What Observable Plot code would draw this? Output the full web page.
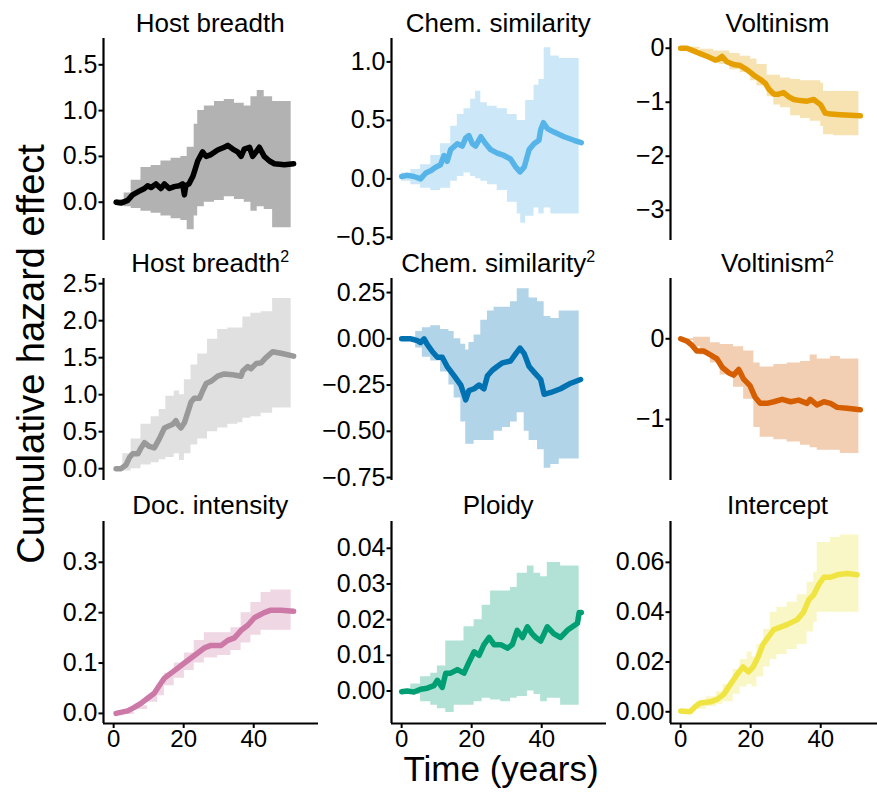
<!DOCTYPE html>
<html><head><meta charset="utf-8">
<script src="https://cdn.jsdelivr.net/npm/d3@7"></script>
<script src="https://cdn.jsdelivr.net/npm/@observablehq/plot@0.6"></script>
<style>
html,body{margin:0;padding:0;background:#fff;}
#chart{position:relative;width:877px;height:792px;overflow:hidden;background:#fff;}
#chart svg.panel{position:absolute;overflow:visible;}
</style></head><body><div id="chart"></div>
<script>
// ---------- data (years, cumulative hazard effect) ----------
const titles = ["Host breadth","Chem. similarity","Voltinism","Host breadth","Chem. similarity","Voltinism","Doc. intensity","Ploidy","Intercept"];
const titleSup = [false,false,false,true,true,true,false,false,false];
const colors = ["#000000","#56B4E9","#E69F00","#999999","#0072B2","#D55E00","#CC79A7","#009E73","#F0E442"];
const xTicks = [0,20,40];

const hostT   = [0.7,2.1,4,5.4,7.3,8.8,9.7,10.7,12.1,13.5,14.5,15.9,17.3,18.8,19.7,20.2,20.6,21.5,22.6,23.2,24,25.4,26.4,27.8,29.7,31.6,32.6,34,35.4,36.4,37.3,38.8,39.7,40.7,41.6,43,44.5,45.9,48.8,51.4];
const hostEst = [0,-0.01,0.02,0.08,0.12,0.15,0.18,0.16,0.2,0.15,0.2,0.15,0.17,0.18,0.2,0.08,0.18,0.2,0.28,0.35,0.45,0.55,0.5,0.52,0.57,0.6,0.62,0.58,0.55,0.5,0.58,0.6,0.5,0.55,0.6,0.5,0.45,0.42,0.41,0.42];
const hostBT  = [0.7,3,5,7.8,10.7,13.5,16.4,19.2,21,23,24,25.9,28.8,31.6,34.5,37.3,39.2,41,43,45.4,50.7];
const hostLo  = [-0.03,-0.05,-0.07,-0.1,-0.12,-0.15,-0.18,-0.2,-0.3,-0.15,-0.05,0,0.02,0.06,0.03,0,-0.1,-0.05,-0.08,-0.28,-0.28];
const hostHi  = [0.03,0.1,0.24,0.38,0.4,0.45,0.48,0.5,0.6,0.85,1.0,1.05,1.1,1.12,1.08,1.05,1.15,1.22,1.15,1.1,1.1];

const chemT   = [0,1.6,3.5,5.4,6.9,8.3,9.7,11.1,12.1,13,14,15.9,17.3,18.3,19.2,20.2,21.1,22.6,24,25.4,27.3,29.2,31.1,32.6,33.8,35,36.4,37.8,39.2,39.7,40.5,41.6,43.5,46.4,49.2,51.3];
const chemEst = [0.02,0.03,0.02,0,0.05,0.07,0.1,0.12,0.2,0.15,0.25,0.3,0.28,0.35,0.37,0.3,0.28,0.36,0.3,0.25,0.22,0.2,0.17,0.1,0.06,0.1,0.25,0.3,0.33,0.42,0.48,0.43,0.4,0.36,0.33,0.31];
const chemBT  = [0,2.6,5.4,8.3,11.1,14,15.9,17.8,19.7,21.1,22.6,24.5,27.3,30.2,33,34,35.4,37.8,39.2,40.7,42.6,45,50.7];
const chemLo  = [-0.02,-0.05,-0.08,-0.1,-0.08,-0.02,0.02,0.05,0.02,0,-0.02,-0.05,-0.1,-0.2,-0.3,-0.38,-0.32,-0.25,-0.3,-0.25,-0.3,-0.3,-0.3];
const chemHi  = [0.05,0.08,0.12,0.2,0.3,0.45,0.55,0.6,0.68,0.75,0.65,0.62,0.6,0.55,0.5,0.5,0.67,0.8,0.85,1.12,1.05,1.03,1.03];

const voltT   = [0,1.8,3.7,5.6,7.5,9.9,10.8,11.8,13.2,15.1,17,19,20.9,22.8,24.2,25.1,26.6,28,29.4,30.9,32.3,34.2,36.1,38,40,41.3,42.8,45.6,48.5,51.3];
const voltEst = [0,0,-0.05,-0.1,-0.15,-0.22,-0.2,-0.15,-0.25,-0.3,-0.32,-0.4,-0.5,-0.58,-0.65,-0.75,-0.85,-0.85,-0.82,-0.9,-0.95,-0.97,-0.98,-0.95,-1.05,-1.2,-1.22,-1.23,-1.24,-1.25];
const voltBT  = [0,5.6,9.4,11.1,14,17,20,21.8,24.7,26.6,28.5,31.4,34.2,37,40,40.8,43.7,50.9];
const voltLo  = [-0.02,-0.15,-0.28,-0.3,-0.4,-0.45,-0.6,-0.7,-0.9,-1.05,-1.1,-1.25,-1.3,-1.35,-1.45,-1.6,-1.62,-1.65];
const voltHi  = [0.02,-0.02,-0.05,-0.05,-0.1,-0.15,-0.2,-0.3,-0.5,-0.5,-0.55,-0.58,-0.6,-0.6,-0.65,-0.8,-0.8,-0.8];

const host2T   = [0.7,2.1,3.5,4.5,5.4,6.9,7.8,8.8,10.2,11.6,13,14.5,15.9,16.9,17.8,18.3,19.2,20.2,21.1,22.1,23,24.5,25.4,26.4,27.8,29.7,31.6,34,36.4,36.9,38.3,39.2,40.7,42.1,43.5,45.4,47.8,51.4];
const host2Est = [0,0,0.05,0.15,0.2,0.2,0.28,0.35,0.3,0.28,0.4,0.55,0.58,0.6,0.65,0.6,0.55,0.62,0.75,0.9,0.95,0.95,1.05,1.15,1.18,1.25,1.28,1.27,1.25,1.32,1.38,1.35,1.42,1.43,1.5,1.58,1.56,1.52];
const host2BT  = [0.7,2.6,5,7.8,10.7,13,14.9,17.3,18.8,20.2,22.1,24,26.8,29.7,32.6,35.4,36.9,39.2,42.1,45.4,50.7];
const host2Lo  = [-0.02,-0.03,0,0.05,0.08,0.12,0.15,0.2,0.11,0.2,0.32,0.4,0.5,0.55,0.6,0.62,0.68,0.7,0.75,0.82,0.82];
const host2Hi  = [0.02,0.2,0.4,0.6,0.7,0.8,0.98,1.05,1.0,1.2,1.4,1.55,1.75,1.88,1.9,1.9,2.05,2.1,2.12,2.3,2.3];

const chem2T   = [0,2.6,4.5,5.4,6.4,7.3,8.8,10.2,11.6,13,15,16.9,17.8,18.3,19.2,20.7,22.1,23.5,24.5,25.9,27.3,28.8,31.1,32.6,33.8,35,36.4,37.8,39.7,40.7,42.6,45.4,48.3,51.1];
const chem2Est = [0,0,-0.01,-0.02,0,-0.03,-0.07,-0.1,-0.1,-0.15,-0.2,-0.25,-0.3,-0.33,-0.28,-0.27,-0.25,-0.27,-0.2,-0.17,-0.15,-0.13,-0.12,-0.08,-0.05,-0.08,-0.15,-0.18,-0.22,-0.3,-0.29,-0.27,-0.24,-0.22];
const chem2BT  = [0,4,5.9,8.3,11.1,13.5,15,16.9,18.3,19.2,20.7,22.6,24.5,26.4,28.8,31.1,33,35,36.4,38.8,40.7,42.6,45,50.7];
const chem2Lo  = [-0.01,-0.05,-0.1,-0.12,-0.18,-0.25,-0.32,-0.45,-0.57,-0.57,-0.55,-0.55,-0.55,-0.5,-0.48,-0.45,-0.4,-0.5,-0.55,-0.6,-0.7,-0.68,-0.65,-0.65];
const chem2Hi  = [0.01,0.04,0.06,0.07,0.05,0.04,0,-0.03,-0.06,-0.02,0.02,0.1,0.15,0.17,0.17,0.2,0.27,0.27,0.22,0.2,0.12,0.11,0.15,0.15];

const volt2T   = [0,1.8,3.2,4.6,6.5,8.5,10.4,11.8,13.7,15.1,16.6,18,19.8,21.2,22.7,24.7,26.6,29,31.4,33.7,36.1,37,38.9,40.9,42.8,44.7,47.5,51.3];
const volt2Est = [0,-0.03,-0.08,-0.15,-0.15,-0.2,-0.25,-0.35,-0.42,-0.45,-0.38,-0.5,-0.58,-0.72,-0.8,-0.8,-0.78,-0.75,-0.78,-0.76,-0.8,-0.75,-0.82,-0.78,-0.8,-0.85,-0.86,-0.88];
const volt2BT  = [0,3.7,5.6,8.5,11.3,15.1,18,20.9,22.7,26.6,30.4,34.2,37,39,42.8,45.6,50.9];
const volt2Lo  = [-0.02,-0.1,-0.2,-0.3,-0.45,-0.6,-0.75,-1.1,-1.22,-1.25,-1.28,-1.32,-1.35,-1.38,-1.38,-1.42,-1.42];
const volt2Hi  = [0,0.02,0.02,-0.05,-0.07,-0.1,-0.15,-0.3,-0.35,-0.32,-0.3,-0.28,-0.2,-0.25,-0.22,-0.25,-0.25];

const docT   = [0.7,4,5.9,7.8,9.7,11.6,13,14.5,16.4,18.3,20.2,22.1,24,25.9,27.8,30.7,32.6,34.5,36.4,38.3,40.2,43,44.9,47.8,51.4];
const docEst = [0,0.005,0.012,0.02,0.03,0.04,0.055,0.07,0.08,0.09,0.1,0.11,0.12,0.13,0.135,0.135,0.145,0.15,0.165,0.175,0.19,0.2,0.205,0.205,0.203];
const docBT  = [0.7,5.9,9.7,12.6,14.5,17.3,20.2,23,25.9,29.7,33.5,36.4,39.2,42.1,44.9,50.7];
const docLo  = [-0.002,0.008,0.022,0.035,0.055,0.07,0.085,0.1,0.11,0.115,0.125,0.14,0.155,0.165,0.165,0.165];
const docHi  = [0.003,0.015,0.035,0.055,0.08,0.1,0.12,0.145,0.16,0.16,0.17,0.2,0.22,0.24,0.245,0.245];

const ploT   = [0,1.6,3.5,5.4,7.3,9.2,10.2,11.6,12.6,14,15.9,17.8,19.2,20.7,22.1,23.5,25,26.4,28.3,30.2,31.6,33,34.5,35.9,37.3,38.3,39.7,41.6,43.5,45.4,47.3,50.2,50.7,51.3];
const ploEst = [-0.0002,0,-0.0003,0.0005,0.0008,0.0015,0.003,0.001,0.005,0.005,0.006,0.005,0.008,0.011,0.01,0.013,0.015,0.013,0.013,0.012,0.013,0.017,0.015,0.018,0.016,0.015,0.014,0.018,0.016,0.015,0.017,0.019,0.022,0.022];
const ploBT  = [0,2.6,5.4,8.3,10.2,12.6,15,17.8,20.7,23,25.4,28.3,31.1,33,35.9,37.8,39.7,41.6,45.4,50.7];
const ploLo  = [-0.0005,-0.001,-0.003,-0.004,-0.005,-0.006,-0.004,-0.004,-0.003,-0.002,-0.0025,-0.003,-0.002,-0.0015,0,-0.001,-0.003,-0.002,-0.004,-0.004];
const ploHi  = [0.0005,0.002,0.004,0.005,0.007,0.014,0.014,0.018,0.02,0.024,0.028,0.028,0.029,0.033,0.035,0.033,0.032,0.036,0.035,0.035];

const intT   = [0,2.7,4.1,5.6,8.5,10.4,12.3,14.2,16.1,17.8,19.4,20.7,22.1,23.5,25,26.6,28.5,30.4,33.3,35.1,36.6,38,39.4,40.9,42.8,44.7,47.5,50.4];
const intEst = [0.0003,0,0.002,0.0035,0.004,0.005,0.007,0.011,0.015,0.018,0.016,0.018,0.022,0.027,0.03,0.033,0.034,0.035,0.037,0.04,0.045,0.047,0.051,0.054,0.054,0.055,0.0555,0.055];
const intBT  = [0,3.5,4.5,7.3,10.2,12.1,15,17,19,20.4,21.8,23.7,25.6,27.5,30.4,33.3,36.1,38,39,42.8,45.6,50.9];
const intLo  = [-0.0003,0,0.001,0.002,0.003,0.004,0.007,0.01,0.011,0.01,0.014,0.018,0.021,0.023,0.025,0.027,0.032,0.036,0.04,0.04,0.04,0.04];
const intHi  = [0.0005,0.002,0.004,0.006,0.008,0.011,0.017,0.021,0.024,0.022,0.027,0.033,0.04,0.042,0.044,0.047,0.052,0.056,0.068,0.07,0.071,0.071];

const yTicks = [[0,0.5,1,1.5],[-0.5,0,0.5,1],[-3,-2,-1,0],[0,0.5,1,1.5,2,2.5],[-0.75,-0.5,-0.25,0,0.25],[-1,0],[0,0.1,0.2,0.3],[0,0.01,0.02,0.03,0.04],[0,0.02,0.04,0.06]];
const yFormats = [".1f",".1f","d",".1f",".2f","d",".1f",".2f",".2f"];
const yDomains = [[-0.418,1.787],[-0.527,1.2],[-3.56,0.18],[-0.16,2.57],[-0.766,0.326],[-1.756,0.747],[-0.02,0.381],[-0.0091,0.0475],[-0.0047,0.0764]];
const xDomain = [-2.9,58.5];

// ---------- assembly ----------
const series = [
  [hostT,hostEst,hostBT,hostLo,hostHi],[chemT,chemEst,chemBT,chemLo,chemHi],[voltT,voltEst,voltBT,voltLo,voltHi],
  [host2T,host2Est,host2BT,host2Lo,host2Hi],[chem2T,chem2Est,chem2BT,chem2Lo,chem2Hi],[volt2T,volt2Est,volt2BT,volt2Lo,volt2Hi],
  [docT,docEst,docBT,docLo,docHi],[ploT,ploEst,ploBT,ploLo,ploHi],[intT,intEst,intBT,intLo,intHi]
];
const FONT = '"Liberation Sans", Arial, Helvetica, sans-serif';
const X0 = [102.7,390.7,670], Y0 = [38,278,520.5];
const PW = 215, PH = 202, ML = 80, MT = 12, MB = 52, MR = 4;
const chart = document.getElementById("chart");

series.forEach((s,i)=>{
  const r = Math.floor(i/3), c = i%3;
  const [T,E,BT,LO,HI] = s;
  const line = T.map((t,k)=>({t, v:E[k]}));
  const band = BT.map((t,k)=>({t, lo:LO[k], hi:HI[k]}));
  const marks = [
    Plot.areaY(band,{x:"t",y1:"lo",y2:"hi",fill:colors[i],fillOpacity:0.3,curve:"step-after"}),
    Plot.line(line,{x:"t",y:"v",stroke:colors[i],strokeWidth:5.5,strokeLinejoin:"round",strokeLinecap:"round"}),
    Plot.ruleX([xDomain[0]],{stroke:"#000",strokeWidth:2.2}),
    Plot.axisY({ticks:yTicks[i],tickFormat:d3.format(yFormats[i]),tickSize:4.5,tickPadding:1.5,strokeWidth:2,fontSize:25,label:null})
  ];
  if (r===2){
    marks.push(Plot.ruleY([yDomains[i][0]],{stroke:"#000",strokeWidth:2.2}));
    marks.push(Plot.axisX({ticks:xTicks,tickSize:5,tickPadding:1.5,strokeWidth:2,fontSize:24,label:null}));
  }
  const svg = Plot.plot({
    width: ML+PW+MR, height: MT+PH+MB,
    marginLeft: ML, marginRight: MR, marginTop: MT, marginBottom: MB,
    x: {domain:xDomain, ...(r===2?{}:{axis:null})},
    y: {domain:yDomains[i]},
    style: {background:"transparent",overflow:"visible",fontFamily:FONT,color:"#000"},
    marks
  });
  svg.classList.add("panel");
  svg.style.left = (X0[c]-ML)+"px";
  svg.style.top = (Y0[r]-MT)+"px";
  chart.appendChild(svg);
});

// titles and axis labels
const ov = d3.select(chart).append("svg")
  .attr("width",877).attr("height",792)
  .style("position","absolute").style("left","0px").style("top","0px")
  .style("pointer-events","none").style("font-family",FONT);
titles.forEach((t,i)=>{
  const r = Math.floor(i/3), c = i%3;
  const tx = ov.append("text").attr("x",X0[c]+PW/2).attr("y",Y0[r]-6.5)
    .attr("text-anchor","middle").attr("font-size",26).attr("fill","#000").text(t);
  if (titleSup[i]) tx.append("tspan").attr("font-size",16).attr("dy",-10).text("2");
});
ov.append("text").attr("transform","translate(44,354) rotate(-90)")
  .attr("text-anchor","middle").attr("font-size",38).attr("fill","#000").text("Cumulative hazard effect");
ov.append("text").attr("x",501).attr("y",781)
  .attr("text-anchor","middle").attr("font-size",35).attr("fill","#000").text("Time (years)");
</script>
</body></html>
